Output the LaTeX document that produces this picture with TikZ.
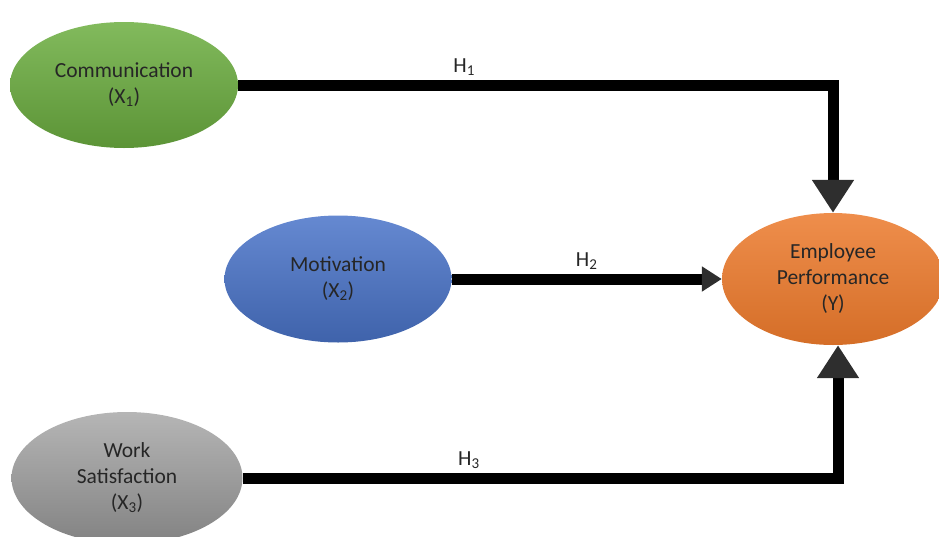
\documentclass[tikz,border=0pt]{standalone}
\usepackage{fontspec}
\setmainfont{Carlito}
\usepackage{xcolor}
\usetikzlibrary{shapes.geometric}
\usetikzlibrary{arrows.meta}
\usetikzlibrary{positioning}

\definecolor{commgreen}{HTML}{6CAE40}
\definecolor{motivblue}{HTML}{4A74C9}
\definecolor{perforange}{HTML}{EC7A2C}
\definecolor{worksgray}{HTML}{A3A3A3}
\definecolor{tipgray}{HTML}{2E2E2E}
\definecolor{textgray}{HTML}{262626}

\begin{document}
\begin{tikzpicture}[
    x=1pt, y=-1pt,
    every node/.style={font=\fontsize{21.5}{26}\selectfont, text=textgray},
    var/.style={ellipse, inner sep=0pt, align=center},
    hyp/.style={line width=11pt, line join=miter},
    big tip/.style={-{Triangle[width=40pt, length=33pt, color=tipgray]}},
    small tip/.style={-{Triangle[width=24pt, length=20pt, color=tipgray]}},
    hyp label/.style={draw=none, inner sep=4pt},
  ]

  \useasboundingbox (0,0) rectangle (939,536);

  \node[var, minimum width=228pt, minimum height=126pt,
        top color=commgreen!85!white, bottom color=commgreen!85!black]
        (comm) at (124, 85) {Communication\\(X\textsubscript{1})};
  \node[var, minimum width=227pt, minimum height=127pt,
        top color=motivblue!85!white, bottom color=motivblue!85!black]
        (motiv) at (338, 279) {Motivation\\(X\textsubscript{2})};
  \node[var, minimum width=222pt, minimum height=132pt,
        top color=perforange!85!white, bottom color=perforange!90!black]
        (perf) at (833, 279) {Employee\\Performance\\(Y)};
  \node[var, minimum width=231pt, minimum height=132pt,
        top color=worksgray!80!white, bottom color=worksgray!80!black]
        (works) at (127, 478) {Work\\Satisfaction\\(X\textsubscript{3})};

  \draw[hyp, big tip] (comm.east) -| node[hyp label, above, pos=0.19] {H\textsubscript{1}} (perf.north);
  \draw[hyp, small tip] (motiv.east) -- node[hyp label, above] {H\textsubscript{2}} (perf.west);
  \draw[hyp, big tip] (works.east) -| node[hyp label, above, pos=0.19] {H\textsubscript{3}} ([xshift=5pt]perf.south);

\end{tikzpicture}
\end{document}
